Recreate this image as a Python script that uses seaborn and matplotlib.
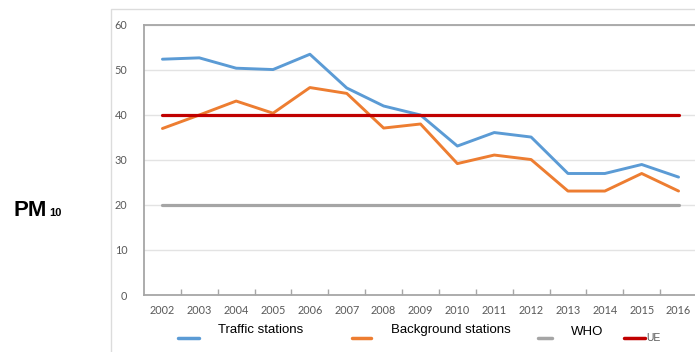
import matplotlib
matplotlib.use("Agg")
import matplotlib.pyplot as plt
from matplotlib.lines import Line2D
from matplotlib.patches import Rectangle
import seaborn as sns
import pandas as pd

# PM10 annual means (µg/m³)
years = [2002, 2003, 2004, 2005, 2006, 2007, 2008, 2009, 2010, 2011, 2012, 2013, 2014, 2015, 2016]
traffic = [52.4, 52.7, 50.4, 50.1, 53.5, 46.0, 42.0, 40.0, 33.1, 36.1, 35.1, 27.0, 27.0, 29.0, 26.2]
background = [37.0, 40.0, 43.1, 40.4, 46.1, 44.8, 37.1, 38.0, 29.2, 31.1, 30.1, 23.1, 23.1, 27.0, 23.1]
who_limit = 20
ue_limit = 40
y_ticks = [0, 10, 20, 30, 40, 50, 60]

blue = "#5B9BD5"
orange = "#ED7D31"
grey = "#A5A5A5"
red = "#C00000"

df = pd.DataFrame({
    "year": years * 4,
    "value": traffic + background + [who_limit] * len(years) + [ue_limit] * len(years),
    "series": (["Traffic stations"] * len(years) + ["Background stations"] * len(years)
               + ["WHO"] * len(years) + ["UE"] * len(years)),
})

sns.set_theme(style="white")
plt.rcParams["font.family"] = ["Liberation Sans", "DejaVu Sans"]

fig = plt.figure(figsize=(6.95, 3.52), dpi=100)

# light outer frame of the chart area
fig.add_artist(Rectangle((111 / 695, -0.05), 1.0, 1 - 9 / 352 + 0.05,
                         transform=fig.transFigure, fill=False,
                         edgecolor="#DCDCDC", linewidth=1.0))

ax = fig.add_axes([144 / 695, 1 - 295 / 352, 553 / 695, 270 / 352])

palette = {"Traffic stations": blue, "Background stations": orange, "WHO": grey, "UE": red}
order = ["WHO", "Traffic stations", "Background stations", "UE"]
for name in order:
    sub = df[df["series"] == name]
    sns.lineplot(data=sub, x="year", y="value", color=palette[name],
                 linewidth=2.3 if name in ("WHO", "UE") else 2.1, ax=ax,
                 legend=False, zorder=3 if name == "UE" else 2)

ax.set_xlim(2001.5, 2016.5)
ax.set_ylim(0, 60)
ax.set_yticks(y_ticks)
ax.set_xticks(years)
ax.set_xticks([y + 0.5 for y in years[:-1]], minor=True)
ax.set_xlabel("")
ax.set_ylabel("")

ax.grid(axis="y", color="#E3E3E3", linewidth=1.0)
ax.grid(axis="x", visible=False)
for s in ("left", "bottom", "top"):
    ax.spines[s].set_color("#A6A6A6")
    ax.spines[s].set_linewidth(1.3)
ax.spines["right"].set_visible(False)

ax.tick_params(axis="x", which="major", length=0, pad=7, labelsize=7.8,
               labelcolor="#595959")
ax.tick_params(axis="x", which="minor", direction="in", length=4, width=1.0,
               color="#A6A6A6", bottom=True)
ax.tick_params(axis="y", length=0, pad=12, labelsize=7.8, labelcolor="#595959")
for lab in ax.get_xticklabels() + ax.get_yticklabels():
    lab.set_fontfamily(["Lato", "DejaVu Sans"])

# y-axis title
fig.text(14 / 695, 1 - 216 / 352, "PM", fontsize=16, fontweight="bold",
         color="black", va="baseline", ha="left")
fig.text(49 / 695, 1 - 216 / 352, "10", fontsize=8, fontweight="bold",
         color="black", va="baseline", ha="left")

# legend row
def handle(x0, x1, y, color):
    fig.add_artist(Line2D([x0 / 695, x1 / 695], [1 - y / 352, 1 - y / 352],
                          transform=fig.transFigure, color=color, linewidth=2.5))

handle(178, 199, 338, blue)
handle(352, 371, 338, orange)
handle(538, 552, 338, grey)
handle(624, 645, 338, red)
fig.text(218 / 695, 1 - 330 / 352, "Traffic stations", fontsize=9.5, color="black",
         va="center", ha="left")
fig.text(391 / 695, 1 - 330 / 352, "Background stations", fontsize=9.5, color="black",
         va="center", ha="left")
fig.text(571 / 695, 1 - 332 / 352, "WHO", fontsize=9.5, color="black",
         va="center", ha="left")
fig.text(646 / 695, 1 - 338 / 352, "UE", fontsize=7.5, color="#595959",
         va="center", ha="left")

fig.savefig("out.png", dpi=100)
